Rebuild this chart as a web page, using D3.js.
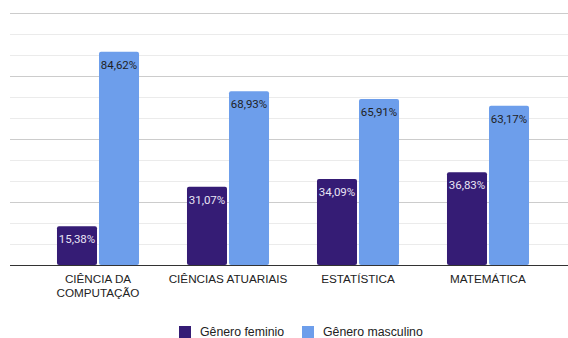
<!DOCTYPE html>
<html>
<head>
<meta charset="utf-8">
<script src="https://cdn.jsdelivr.net/npm/d3@7"></script>
<style>
  body { margin: 0; background: #fff; }
  svg { display: block; font-family: Roboto, "Liberation Sans", Arial, sans-serif; }
</style>
</head>
<body>
<svg width="568" height="338"></svg>
<script>
// ---------------------------------------------------------
// Data
const categories = ['CIÊNCIA DA COMPUTAÇÃO', 'CIÊNCIAS ATUARIAIS', 'ESTATÍSTICA', 'MATEMÁTICA'];
const categoryLines = [['CIÊNCIA DA', 'COMPUTAÇÃO'], ['CIÊNCIAS ATUARIAIS'], ['ESTATÍSTICA'], ['MATEMÁTICA']];
const seriesNames = ['Gênero feminio', 'Gênero masculino'];
const feminino = [15.38, 31.07, 34.09, 36.83];
const masculino = [84.62, 68.93, 65.91, 63.17];
const gridTicks = d3.range(0, 100.01, 100 / 12);

const colors = ['#351c75', '#6d9eeb'];
const labelColors = ['#e8e4f4', '#1f1f1f'];

// ---------------------------------------------------------
// Layout
const plot = { left: 10, right: 568, top: 13, bottom: 265 };
const svg = d3.select('svg');

const rows = categories.map((c, i) => ({ cat: c, lines: categoryLines[i], values: [feminino[i], masculino[i]] }));

const x0 = d3.scaleBand()
    .domain(categories)
    .range([33, 553])
    .paddingInner(0.369)
    .paddingOuter(0.1845);

const x1 = d3.scaleBand()
    .domain(seriesNames)
    .range([0, x0.bandwidth()])
    .paddingInner(0.0476);

const y = d3.scaleLinear().domain([0, 100]).range([plot.bottom, plot.top]);

// ---------------------------------------------------------
// Gridlines (major every 25, minor between)
svg.append('g')
    .selectAll('line')
    .data(gridTicks)
    .enter()
    .append('line')
    .attr('x1', plot.left)
    .attr('x2', plot.right)
    .attr('y1', (d) => Math.round(y(d)) + 0.5)
    .attr('y2', (d) => Math.round(y(d)) + 0.5)
    .attr('stroke', (d, i) => (i % 3 === 0 ? '#cccccc' : '#ebebeb'))
    .attr('stroke-width', 1);

// ---------------------------------------------------------
// Bars
const groups = svg.append('g')
    .selectAll('g')
    .data(rows)
    .enter()
    .append('g')
    .attr('transform', (d) => `translate(${x0(d.cat)},0)`);

groups.selectAll('rect')
    .data((d) => d.values.map((v, j) => ({ v: v, s: seriesNames[j], j: j })))
    .enter()
    .append('rect')
    .attr('x', (d) => x1(d.s))
    .attr('width', x1.bandwidth())
    .attr('y', (d) => y(d.v))
    .attr('height', (d) => y(0) - y(d.v))
    .attr('rx', 2)
    .attr('fill', (d) => colors[d.j]);

groups.selectAll('text')
    .data((d) => d.values.map((v, j) => ({ v: v, s: seriesNames[j], j: j })))
    .enter()
    .append('text')
    .attr('x', (d) => x1(d.s) + x1.bandwidth() / 2)
    .attr('y', (d) => y(d.v) + 17)
    .attr('text-anchor', 'middle')
    .attr('font-size', 11.5)
    .attr('fill', (d) => labelColors[d.j])
    .text((d) => d.v.toFixed(2).replace('.', ',') + '%');

// ---------------------------------------------------------
// Baseline
svg.append('line')
    .attr('x1', plot.left)
    .attr('x2', plot.right)
    .attr('y1', y(0) + 0.5)
    .attr('y2', y(0) + 0.5)
    .attr('stroke', '#333')
    .attr('stroke-width', 1);

// ---------------------------------------------------------
// Category labels
const catLabels = svg.append('g')
    .attr('font-family', '"Liberation Sans", Arial, sans-serif')
    .attr('font-size', 11.7)
    .attr('fill', '#222');

rows.forEach((r) => {
    const t = catLabels.append('text')
        .attr('text-anchor', 'middle')
        .attr('x', x0(r.cat) + x0.bandwidth() / 2)
        .attr('y', 282.5);
    r.lines.forEach((ln, k) => {
        t.append('tspan')
            .attr('x', x0(r.cat) + x0.bandwidth() / 2)
            .attr('dy', k === 0 ? 0 : 14.4)
            .text(ln);
    });
});

// ---------------------------------------------------------
// Legend
const legendX = [179, 302];
const legend = svg.append('g')
    .attr('font-family', '"Liberation Sans", Arial, sans-serif')
    .attr('font-size', 12.3)
    .attr('fill', '#222');

seriesNames.forEach((s, i) => {
    legend.append('rect')
        .attr('x', legendX[i])
        .attr('y', 326)
        .attr('width', 12)
        .attr('height', 12)
        .attr('fill', colors[i]);
    legend.append('text')
        .attr('x', legendX[i] + 21)
        .attr('y', 335.5)
        .text(s);
});
</script>
</body>
</html>
